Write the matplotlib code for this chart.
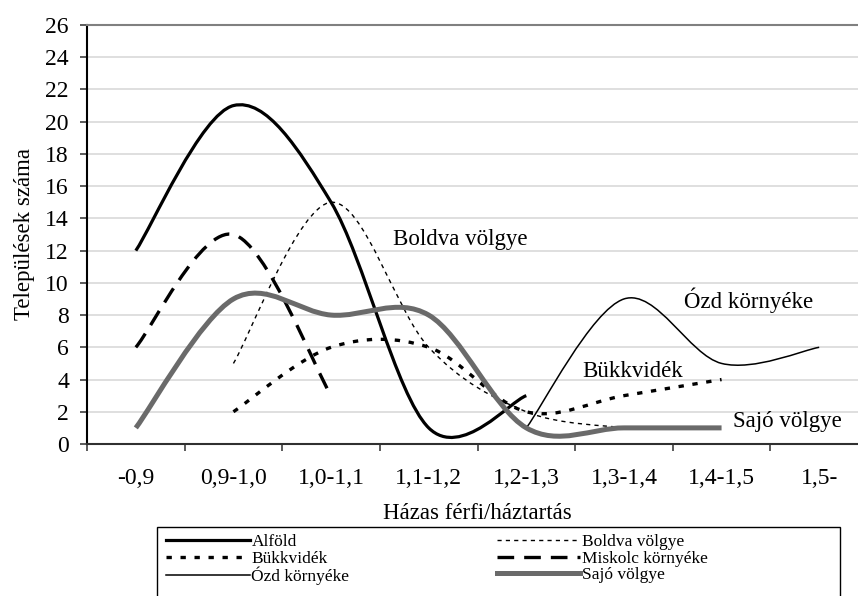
import numpy as np
import matplotlib
matplotlib.use("Agg")
import matplotlib.pyplot as plt
from matplotlib.path import Path
from matplotlib.patches import PathPatch, Rectangle
from matplotlib.lines import Line2D

plt.rcParams['font.family'] = ['Liberation Serif', 'DejaVu Serif']

nan = np.nan
categories = ['-0,9', '0,9-1,0', '1,0-1,1', '1,1-1,2', '1,2-1,3', '1,3-1,4', '1,4-1,5', '1,5-']
alfold = [12, 21, 15, 1, 3, nan, nan, nan]
boldva = [nan, 5, 15, 6, 2, 1, nan, nan]
bukkvidek = [nan, 2, 6, 6, 2, 3, 4, nan]
miskolc = [6, 13, 3, nan, nan, nan, nan, nan]
ozd = [nan, nan, nan, nan, 1, 9, 5, 6]
sajo = [1, 9, 8, 8, 1, 1, 1, nan]


def smooth_path(values):
    # Excel-like smoothed line: cubic Bezier through the points
    x = np.arange(len(values), dtype=float)
    y = np.array(values, dtype=float)
    ok = ~np.isnan(y)
    pts = np.column_stack([x[ok], y[ok]])
    n = len(pts)
    verts = [pts[0]]
    codes = [Path.MOVETO]
    for i in range(n - 1):
        p_prev = pts[i - 1] if i > 0 else pts[i]
        p_next2 = pts[i + 2] if i + 2 < n else pts[i + 1]
        c1 = pts[i] + (pts[i + 1] - p_prev) / 6
        c2 = pts[i + 1] - (p_next2 - pts[i]) / 6
        verts += [c1, c2, pts[i + 1]]
        codes += [Path.CURVE4] * 3
    return Path(verts, codes)


series = [
    ('Alföld', alfold, dict(color='black', lw=2.3, ls='-')),
    ('Boldva völgye', boldva, dict(color='black', lw=1.0, ls=(0, (3, 3)))),
    ('Bükkvidék', bukkvidek, dict(color='black', lw=2.4, ls=(0, (1.6, 2.6)))),
    ('Miskolc környéke', miskolc, dict(color='black', lw=2.4, ls=(0, (5, 3)))),
    ('Ózd környéke', ozd, dict(color='black', lw=1.1, ls='-')),
    ('Sajó völgye', sajo, dict(color='#6a6a6a', lw=3.6, ls='-')),
]

W, H = 858, 596
fig = plt.figure(figsize=(W / 100, H / 100), dpi=100)
ax = fig.add_axes([87 / W, 152 / H, 781 / W, 419 / H])

handles = {}
for name, vals, st in series:
    patch = PathPatch(smooth_path(vals), fill=False, edgecolor=st['color'],
                      lw=st['lw'], linestyle=st['ls'], capstyle='butt', zorder=3)
    ax.add_patch(patch)
    handles[name] = Line2D([], [], color=st['color'], lw=st['lw'], linestyle=st['ls'])

ax.set_xlim(-0.5, len(categories) - 0.5)
ax.set_ylim(0, 26)
ax.set_yticks(np.arange(0, 27, 2))
ax.set_xticks(np.arange(-0.5, len(categories), 1.0))
ax.set_xticklabels([])
ax.set_xticks(np.arange(len(categories)), minor=True)
ax.set_xticklabels(categories, minor=True)
ax.tick_params(axis='x', which='minor', length=0, pad=17, labelsize=17)
ax.tick_params(axis='x', which='major', length=5, width=1.2, color='#404040')
ax.tick_params(axis='y', length=5, width=1.2, pad=8, labelsize=17, color='#404040')

ax.yaxis.grid(True, color='#d9d9d9', lw=1.2)
ax.set_axisbelow(True)
ax.spines['top'].set_color('#808080')
ax.spines['top'].set_linewidth(1.5)
ax.spines['right'].set_visible(False)
ax.spines['left'].set_linewidth(1.5)
ax.spines['bottom'].set_linewidth(1.5)
ax.spines['bottom'].set_color('#303030')

ax.set_ylabel('Települések száma', fontsize=16.5)
ax.yaxis.set_label_coords(-0.066, 0.5)
ax.set_xlabel('Házas férfi/háztartás', fontsize=16.5)
ax.xaxis.set_label_coords(0.5, -0.14)

ax.text(2.63, 12.7, 'Boldva völgye', fontsize=16.5, ha='left', va='center')
ax.text(5.62, 8.9, 'Ózd környéke', fontsize=16.5, ha='left', va='center')
ax.text(4.57, 4.5, 'Bükkvidék', fontsize=16.5, ha='left', va='center')
ax.text(6.12, 1.4, 'Sajó völgye', fontsize=16.5, ha='left', va='center')

order = ['Alföld', 'Bükkvidék', 'Ózd környéke', 'Boldva völgye', 'Miskolc környéke', 'Sajó völgye']
leg = fig.legend([handles[k] for k in order], order, loc='upper left',
                 bbox_to_anchor=(162 / W, 66 / H), ncol=2, frameon=False,
                 fontsize=12.5, handlelength=4.8,
                 handletextpad=0.1, columnspacing=8.5, labelspacing=0.0,
                 borderpad=0.25, borderaxespad=0)

# legend box (wider than the entries, runs off the bottom edge)
fig.patches.append(Rectangle((157 / W, -10 / H), (840 - 157) / W, (69 + 10) / H,
                             transform=fig.transFigure, fill=False,
                             edgecolor='black', lw=1.0))

fig.savefig('out.png', dpi=100)
